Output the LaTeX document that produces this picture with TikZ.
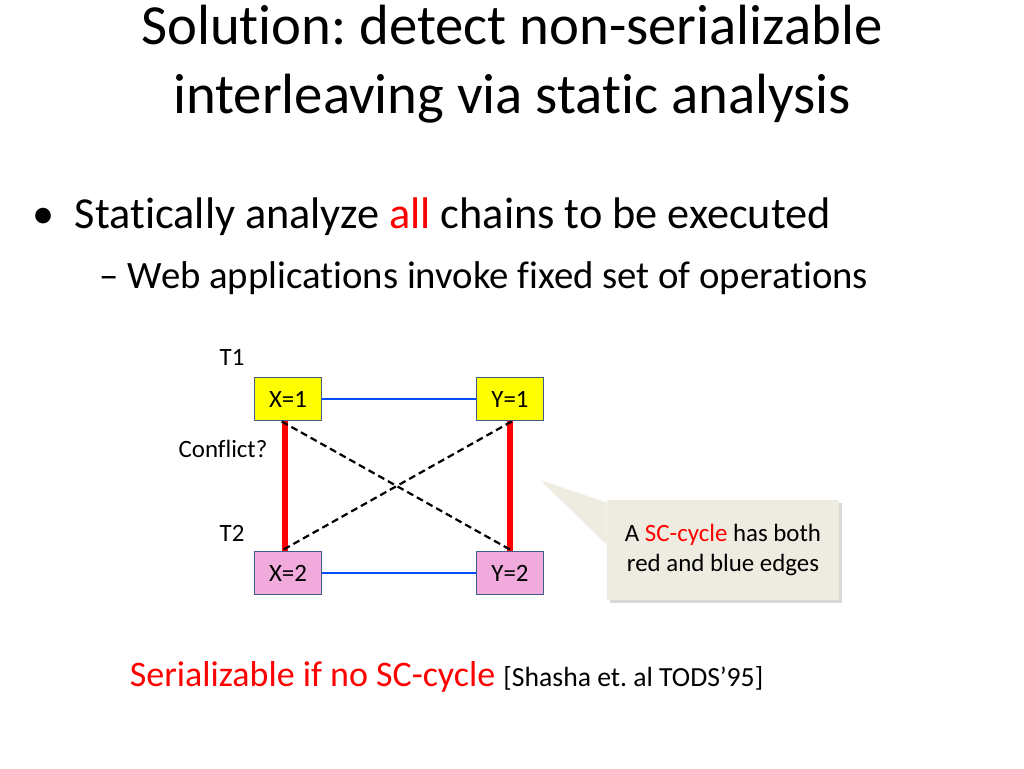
\documentclass[tikz,border=0pt]{standalone}
\usepackage{fontspec}
\setmainfont[Ligatures=NoCommon]{Carlito}
\frenchspacing
\usetikzlibrary{positioning, shadows, calc}
\definecolor{boxyellow}{RGB}{255,255,0}
\definecolor{boxpink}{RGB}{240,170,220}
\definecolor{boxedge}{RGB}{60,95,140}
\definecolor{calloutfill}{RGB}{238,236,225}

\begin{document}
\begin{tikzpicture}[
	x=0.0254cm, y=-0.0254cm,
	op/.style = {rectangle, draw=boxedge, line width=1.2pt, minimum width=1.7cm, minimum height=1.1cm, font=\fontsize{18}{21}\selectfont},
	blueedge/.style = {draw=blue!70!cyan, line width=1.5pt},
	redge/.style = {draw=red, line width=4pt},
	conflict/.style = {draw, dash pattern=on 5pt off 3pt, line width=1.6pt},
	lbl/.style = {font=\fontsize{18}{21}\selectfont}
	]
	\useasboundingbox (0,0) rectangle (1024,768);
	
	% Title and bullets
	\node [font=\fontsize{41}{50}\selectfont, align=center] (title) at (512,64) {Solution: detect non-serializable\\interleaving via static analysis};
	\node [anchor=west, font=\fontsize{32}{38}\selectfont] (bullet) at (28,217) {\textbullet\ \ Statically analyze \textcolor{red}{all} chains to be executed};
	\node [anchor=west, font=\fontsize{28}{34}\selectfont] (sub) at (95,278) {-- Web applications invoke fixed set of operations};
	
	% Nodes
	\node [op, fill=boxyellow] (x1) at (288,399) {X=1};
	\node [op, fill=boxyellow] (y1) at (510,399) {Y=1};
	\node [op, fill=boxpink] (x2) at (288,573) {X=2};
	\node [op, fill=boxpink] (y2) at (510,573) {Y=2};
	\node [lbl] (t1) at (232,357) {T1};
	\node [lbl] (t2) at (232,533) {T2};
	\node [lbl] (conf) at (223,449) {Conflict?};
	
	% Edges
	\path [blueedge] (x1) -- (y1);
	\path [blueedge] (x2) -- (y2);
	\path [redge] (x1.south) ++(-3,0) coordinate (a) -- (a |- x2.north);
	\path [redge] (y1.south) coordinate (b) -- (b |- y2.north);
	\path [conflict] ($(x1.south west)+(28,0)$) -- ($(y2.north west)+(36,0)$);
	\path [conflict] ($(y1.south west)+(36,0)$) -- ($(x2.north west)+(28,0)$);
	
	% Callout
	\node [fill=calloutfill, drop shadow={opacity=0.3}, minimum width=5.9cm, minimum height=2.55cm, align=center, lbl] (note) at (723,550) {A \textcolor{red}{SC-cycle} has both\\red and blue edges};
	\fill [calloutfill] (540,480) -- ($(note.north west)+(0,3)$) -- ($(note.north west)+(0,45)$) -- cycle;
	
	% Bottom line
	\node [anchor=west, font=\fontsize{26}{30}\selectfont] (ref) at (125,677) {\textcolor{red}{Serializable if no SC-cycle} {\fontsize{20}{24}\selectfont [Shasha et. al TODS'95]}};
\end{tikzpicture}
\end{document}
